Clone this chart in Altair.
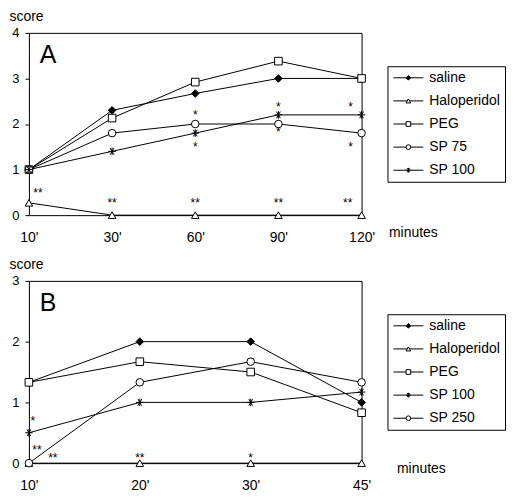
import altair as alt
import pandas as pd

FONT = "Liberation Sans"

# ---------------- Panel A data ----------------
a_times = ["10'", "30'", "60'", "90'", "120'"]
a_series = ["saline", "Haloperidol", "PEG", "SP 75", "SP 100"]
a_saline = [1.0, 2.3, 2.67, 3.0, 3.0]
a_halo = [0.27, 0.0, 0.0, 0.0, 0.0]
a_peg = [1.0, 2.13, 2.92, 3.38, 3.0]
a_sp75 = [1.0, 1.8, 2.0, 2.0, 1.8]
a_sp100 = [1.0, 1.4, 1.8, 2.2, 2.2]

a_ann_time = ["10'", "30'", "60'", "90'", "120'", "60'", "60'", "90'", "90'", "120'", "120'"]
a_ann_y = [0.55, 0.33, 0.33, 0.33, 0.33, 2.27, 1.57, 2.43, 1.88, 2.43, 1.57]
a_ann_text = ["**", "**", "**", "**", "**", "*", "*", "*", "*", "*", "*"]
a_ann_dx = [9, 0, 0, 0, -14, 0, 0, 0, 0, -11, -11]

# ---------------- Panel B data ----------------
b_times = ["10'", "20'", "30'", "45'"]
b_series = ["saline", "Haloperidol", "PEG", "SP 100", "SP 250"]
b_saline = [1.33, 2.0, 2.0, 1.0]
b_halo = [0.0, 0.0, 0.0, 0.0]
b_peg = [1.33, 1.67, 1.5, 0.83]
b_sp100 = [0.5, 1.0, 1.0, 1.17]
b_sp250 = [0.0, 1.33, 1.67, 1.33]

b_ann_time = ["10'", "10'", "10'", "20'", "30'"]
b_ann_y = [0.74, 0.26, 0.14, 0.14, 0.14]
b_ann_text = ["*", "**", "**", "**", "*"]
b_ann_dx = [4, 8, 24, 0, 0]

# ---------------- styling of series ----------------
ASTERISK = "M-1,0L1,0M-0.5,-0.87L0.5,0.87M-0.5,0.87L0.5,-0.87M0,-1L0,1"
all_series = ["saline", "Haloperidol", "PEG", "SP 75", "SP 100", "SP 250"]
shape_range = ["diamond", "triangle-up", "square", "circle", ASTERISK, "circle"]
fill_range = ["black", "white", "white", "white", "white", "white"]

shape_enc = alt.Shape("series:N", scale=alt.Scale(domain=all_series, range=shape_range), legend=None)
fill_enc = alt.Fill("series:N", scale=alt.Scale(domain=all_series, range=fill_range), legend=None)


def long_df(times, series, values):
    rows = []
    for s, vals in zip(series, values):
        for t, v in zip(times, vals):
            rows.append({"series": s, "time": t, "score": v})
    return pd.DataFrame(rows)


def panel(df, times, ymax, letter, ann, w, h, min_dx, min_dy):
    x = alt.X(
        "time:N", sort=times,
        scale=alt.Scale(type="point", padding=0, domain=times),
        axis=alt.Axis(title="minutes", labelAngle=0, ticks=False, domain=False,
                      labelPadding=15, titleX=w + min_dx, titleY=min_dy,
                      titleAlign="left", titleBaseline="middle", titleAngle=0),
    )
    y = alt.Y(
        "score:Q", scale=alt.Scale(domain=[0, ymax], nice=False),
        axis=alt.Axis(title="score", values=list(range(ymax + 1)), grid=False,
                      domain=False, tickSize=4, labelPadding=6, titleAngle=0,
                      titleAlign="left", titleBaseline="alphabetic", titleX=-20, titleY=-12),
    )
    lines = alt.Chart(df).mark_line(color="black", strokeWidth=1).encode(x=x, y=y, detail="series:N")
    pts = alt.Chart(df).mark_point(filled=True, size=58, stroke="black", strokeWidth=1, opacity=1).encode(
        x=x, y=y, shape=shape_enc, fill=fill_enc)
    layers = [lines, pts]
    ann_df = pd.DataFrame({"time": ann[0], "score": ann[1], "label": ann[2], "dx": ann[3]})
    for d in sorted(set(ann[3])):
        layers.append(
            alt.Chart(ann_df).transform_filter(alt.datum.dx == d).mark_text(
                dx=d, dy=7, fontSize=12, font=FONT, baseline="alphabetic", align="center",
                color="black", fill="black"
            ).encode(x=x, y=y, text="label:N")
        )
    lab = alt.Chart(pd.DataFrame({"letter": [letter]})).mark_text(
        fontSize=25, font=FONT, align="left", baseline="top", color="black"
    ).encode(x=alt.value(11), y=alt.value(10), text="letter:N")
    layers.append(lab)
    return alt.layer(*layers).properties(width=w, height=h)


def legend(series, w, h):
    df = pd.DataFrame({"series": series})
    y = alt.Y("series:N", sort=series, scale=alt.Scale(type="point", padding=0.5, domain=series), axis=None)
    rule = alt.Chart(df).mark_rule(color="black", strokeWidth=1).encode(x=alt.value(6), x2=alt.value(36), y=y)
    pts = alt.Chart(df).mark_point(filled=True, size=22, stroke="black", strokeWidth=1, opacity=1).encode(
        x=alt.value(21), y=y, shape=shape_enc, fill=fill_enc)
    txt = alt.Chart(df).mark_text(align="left", baseline="middle", fontSize=14, font=FONT, color="black").encode(
        x=alt.value(42), y=y, text="series:N")
    return alt.layer(rule, pts, txt).properties(width=w, height=h)


dfA = long_df(a_times, a_series, [a_saline, a_halo, a_peg, a_sp75, a_sp100])
dfB = long_df(b_times, b_series, [b_saline, b_halo, b_peg, b_sp100, b_sp250])

W, H = 334, 183
plotA = panel(dfA, a_times, 4, "A", (a_ann_time, a_ann_y, a_ann_text, a_ann_dx), W, H, 27, 17)
plotB = panel(dfB, b_times, 3, "B", (b_ann_time, b_ann_y, b_ann_text, b_ann_dx), W, H, 35, 5)
legA = legend(a_series, 118, 116)
legB = legend(b_series, 118, 116)

top = alt.hconcat(plotA, legA, spacing=26, bounds="flush", center=True)
bottom = alt.hconcat(plotB, legB, spacing=26, bounds="flush", center=True)

chart = alt.vconcat(top, bottom, spacing=12).properties(padding=0).configure_view(
    stroke="black", strokeWidth=1
).configure_axis(
    labelFont=FONT, labelFontSize=13, labelColor="black", titleFont=FONT, titleFontSize=14,
    titleFontWeight="normal", titleColor="black", tickColor="black",
).configure_axisX(labelFontSize=14)

chart.save("out.html", embed_options={"renderer": "svg", "actions": False})
